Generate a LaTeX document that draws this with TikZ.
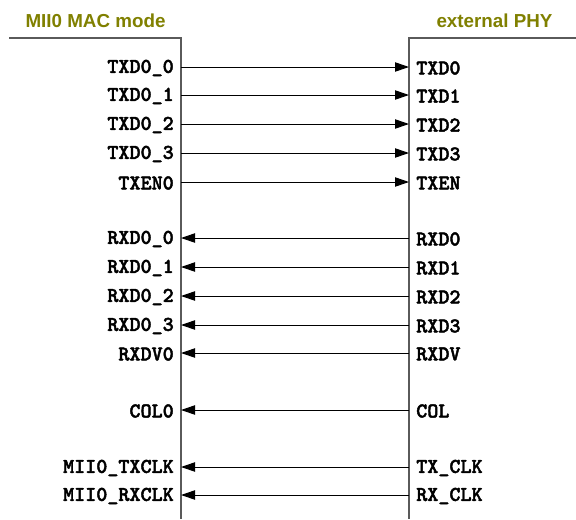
\documentclass[tikz,border=0pt]{standalone}
\usepackage{fontspec}
\setmainfont{Liberation Sans}
\newfontfamily\sigfont{lmmonolt10-bold.otf}[FakeBold=2]
\usetikzlibrary{arrows.meta}
\definecolor{titleolive}{RGB}{128,128,0}
\definecolor{boxgray}{RGB}{90,90,90}
\tikzset{
  titlelbl/.style={font=\fontsize{14.1}{16}\selectfont\bfseries, text=titleolive, inner sep=0pt},
  leftlbl/.style={font=\fontsize{15.8}{18}\selectfont\sigfont, anchor=east, inner sep=0pt},
  rightlbl/.style={font=\fontsize{15.8}{18}\selectfont\sigfont, anchor=west, inner sep=0pt},
  boxline/.style={draw=boxgray, line width=1.1pt},
  sig/.style={draw=black, line width=0.75pt, -{Triangle[length=10.5pt, width=7pt]}},
}
\begin{document}
\begin{tikzpicture}[x=0.75pt, y=-0.75pt]
\useasboundingbox (0,0) rectangle (576,519);
% titles
\node[titlelbl] (tl) at (95.5,21) {MII0 MAC mode};
\node[titlelbl] (tr) at (494.5,21) {external PHY};
% boxes
\coordinate (lbtl) at (9,38);
\coordinate (lbtr) at (181,38);
\coordinate (lbbr) at (181,519);
\coordinate (rbtl) at (409,38);
\coordinate (rbtr) at (576,38);
\coordinate (rbbl) at (409,519);
\draw[boxline] (lbtl) -- (lbtr) -- (lbbr);
\draw[boxline] (rbtr) -- (rbtl) -- (rbbl);
% signals
\foreach \i/\y/\ln/\rn in {
  1/68/TXD0\_0/TXD0,
  2/96/TXD0\_1/TXD1,
  3/125/TXD0\_2/TXD2,
  4/154/TXD0\_3/TXD3,
  5/183/TXEN0/TXEN,
  6/239/RXD0\_0/RXD0,
  7/268/RXD0\_1/RXD1,
  8/297/RXD0\_2/RXD2,
  9/326/RXD0\_3/RXD3,
  10/354/RXDV0/RXDV,
  11/411/COL0/COL,
  12/468/MII0\_TXCLK/TX\_CLK,
  13/496/MII0\_RXCLK/RX\_CLK} {
  \node[leftlbl] (ln\i) at (174,\y) {\ln};
  \node[rightlbl] (rn\i) at (416,\y) {\rn};
}
\foreach \i/\y in {1/67,2/95,3/124,4/153,5/182,6/238,7/267,8/296,9/325,10/353,11/410,12/467,13/495} {
  \coordinate (lp\i) at (181,\y);
  \coordinate (rp\i) at (409,\y);
}
\foreach \i in {1,...,5} { \draw[sig] (lp\i) -- (rp\i); }
\foreach \i in {6,...,13} { \draw[sig] (rp\i) -- (lp\i); }
\end{tikzpicture}
\end{document}
